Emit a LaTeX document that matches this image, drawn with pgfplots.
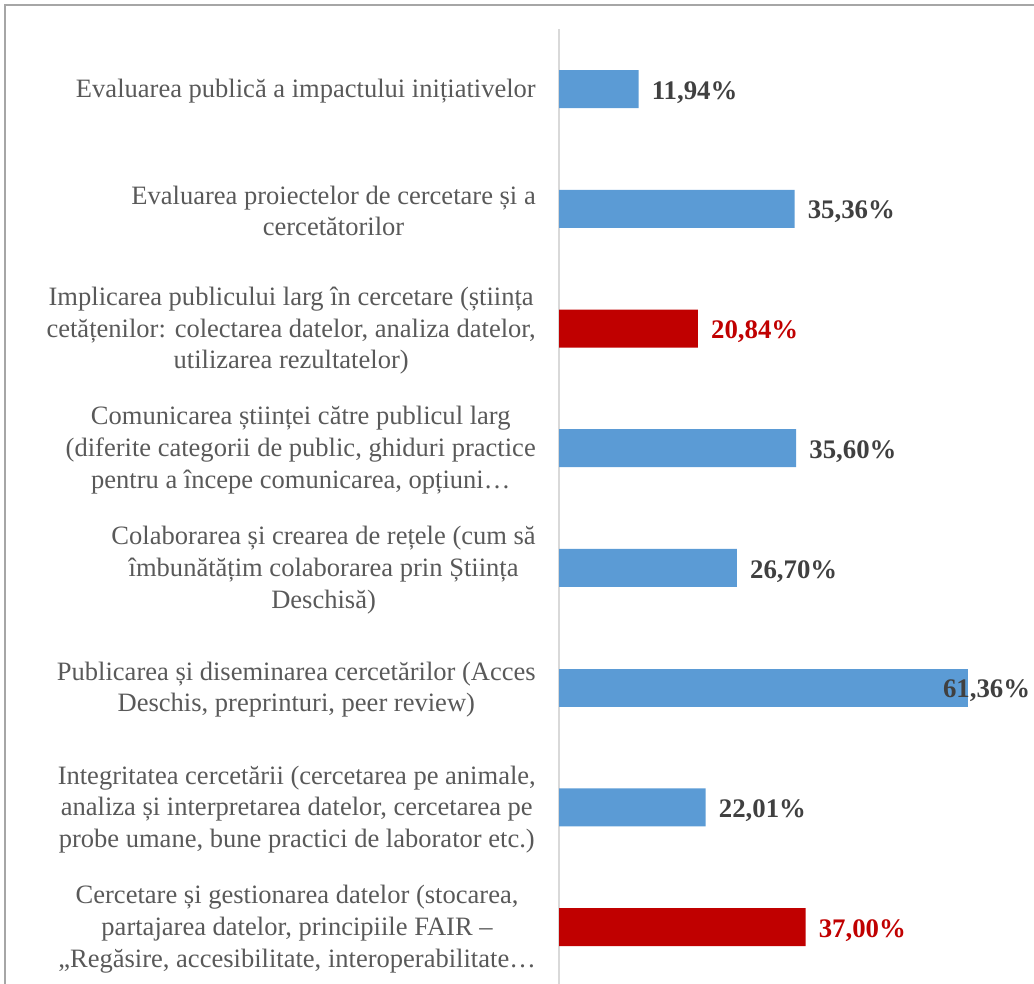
\documentclass[border=0pt]{standalone}
\usepackage{pgfplots}
\pgfplotsset{compat=1.18}
\usepackage{fontspec}
\setmainfont{Liberation Serif}
\definecolor{barblue}{HTML}{5B9BD5}
\definecolor{barred}{HTML}{C00000}
\definecolor{txtgray}{HTML}{595959}
\definecolor{valgray}{HTML}{404040}
\definecolor{framegray}{HTML}{A6A6A6}
\definecolor{axgray}{HTML}{D9D9D9}
\begin{document}
\begin{tikzpicture}
\useasboundingbox (0,0) rectangle (775.5pt,738pt);
\begin{scope}
\clip (0,0) rectangle (775.5pt,738pt);
\draw[framegray, line width=1.2pt] (3.75pt,-5pt) -- (3.75pt,734.25pt) -- (790pt,734.25pt);
\end{scope}
\begin{axis}[
  at={(419.25pt,-2.14pt)}, anchor=south west,
  scale only axis, width=356.25pt, height=718.2pt,
  xmin=0, xmax=71.3, ymin=-0.5, ymax=7.5, y dir=reverse,
  xbar, bar width=28.5pt, bar shift=0pt,
  axis x line=none, axis y line*=left,
  y axis line style={draw=axgray, line width=1.1pt, -},
  ytick={0,...,7},
  yticklabels={
    {Evaluarea publică a impactului inițiativelor},
    {Evaluarea proiectelor de cercetare și a\\cercetătorilor},
    {Implicarea publicului larg în cercetare (știința\\cetățenilor: colectarea datelor, analiza datelor,\\utilizarea rezultatelor)},
    {Comunicarea științei către publicul larg\\(diferite categorii de public, ghiduri practice\\pentru a începe comunicarea, opțiuni…},
    {Colaborarea și crearea de rețele (cum să\\îmbunătățim colaborarea prin Știința\\Deschisă)},
    {Publicarea și diseminarea cercetărilor (Acces\\Deschis, preprinturi, peer review)},
    {Integritatea cercetării (cercetarea pe animale,\\analiza și interpretarea datelor, cercetarea pe\\probe umane, bune practici de laborator etc.)},
    {Cercetare și gestionarea datelor (stocarea,\\partajarea datelor, principiile FAIR –\\„Regăsire, accesibilitate, interoperabilitate…}
  },
  major tick length=0pt,
  yticklabel style={align=center, font=\fontsize{19.9}{23.8}\selectfont, text=txtgray, inner sep=0pt, xshift=-17.25pt, yshift=-1.6pt},
  clip=false,
  point meta=explicit symbolic,
  nodes near coords,
  every node near coord/.append style={anchor=west, inner sep=0pt, xshift=9.75pt, yshift=-2.5pt, font=\fontsize{20.1}{23.6}\selectfont\bfseries, text=valgray},
]
\addplot[fill=barblue, draw=none] coordinates {(11.94,0)[11,94\%] (35.36,1)[35,36\%] (35.60,3)[35,60\%] (26.70,4)[26,70\%] (22.01,6)[22,01\%]};
\addplot[fill=barred, draw=none, every node near coord/.append style={text=barred}] coordinates {(20.84,2)[20,84\%] (37.00,7)[37,00\%]};
\addplot[fill=barblue, draw=none, every node near coord/.append style={xshift=-28.5pt}] coordinates {(61.36,5)[61,36\%]};
\end{axis}
\end{tikzpicture}
\end{document}
